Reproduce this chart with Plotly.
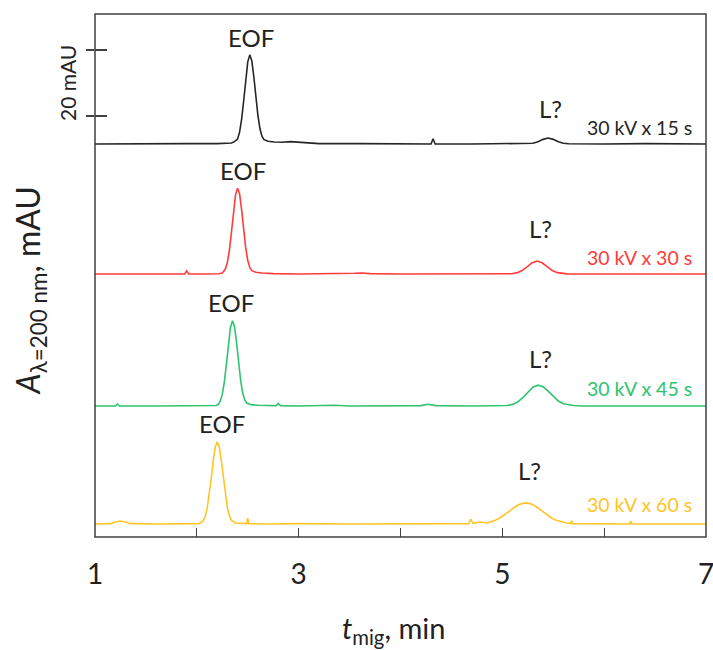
import plotly.graph_objects as go

# ---------------- data (mAU above each trace's own baseline) ----------------
labels = ["30 kV x 15 s", "30 kV x 30 s", "30 kV x 45 s", "30 kV x 60 s"]
colors = ["#262626", "#FF3B3B", "#2EC46E", "#FFC426"]

t15 = [1.00, 1.30, 1.60, 1.90, 2.20, 2.34, 2.37, 2.40,
       2.42, 2.44, 2.46, 2.48, 2.50, 2.52, 2.54, 2.56, 2.58, 2.60, 2.62, 2.64, 2.66,
       2.70, 2.76, 2.84, 2.92, 2.97, 3.04, 3.20, 3.60, 4.00,
       4.30, 4.32, 4.34, 4.70, 5.10,
       5.25, 5.30, 5.35, 5.40, 5.45, 5.50, 5.55, 5.60, 5.65,
       5.75, 6.00, 6.40, 6.80, 7.00]
A15 = [0.0, 0.1, 0.0, 0.1, 0.1, 0.3, 0.7, 1.5,
       3.6, 7.5, 13.1, 19.6, 24.9, 27.0, 25.2, 20.3, 14.2, 8.6, 4.6, 2.3, 1.3,
       0.8, 0.6, 0.5, 0.7, 0.6, 0.3, 0.1, 0.1, 0.0,
       0.0, 1.6, 0.0, 0.0, 0.0,
       0.05, 0.2, 0.65, 1.4, 1.8, 1.4, 0.65, 0.2, 0.05,
       0.0, 0.0, 0.1, 0.0, 0.0]

t30 = [1.00, 1.40, 1.80, 1.88, 1.90, 1.92, 2.10,
       2.22, 2.25, 2.28,
       2.30, 2.32, 2.34, 2.36, 2.38, 2.40, 2.42, 2.44, 2.46, 2.48, 2.50, 2.52, 2.54,
       2.58, 2.64, 2.75, 3.00, 3.40, 3.55, 3.62, 3.70, 4.00, 4.50, 4.90,
       5.09, 5.14, 5.19, 5.24, 5.29, 5.34, 5.39, 5.44, 5.49, 5.54, 5.59, 5.64,
       5.80, 6.20, 6.60, 7.00]
A30 = [0.0, 0.0, 0.0, 0.0, 0.9, 0.0, 0.0,
       0.05, 0.3, 1.5,
       3.5, 7.2, 12.7, 18.9, 24.0, 26.0, 24.3, 19.4, 13.3, 7.9, 4.1, 2.0, 1.0,
       0.5, 0.3, 0.1, 0.0, 0.0, 0.2, 0.3, 0.1, 0.0, 0.0, 0.0,
       0.08, 0.33, 0.97, 2.1, 3.35, 3.9, 3.4, 2.2, 1.05, 0.4, 0.12, 0.03,
       0.0, 0.0, 0.0, 0.0]

t45 = [1.00, 1.20, 1.22, 1.24, 1.60, 2.00, 2.15,
       2.19, 2.21, 2.23, 2.25, 2.27, 2.29, 2.31, 2.33, 2.35, 2.37, 2.39, 2.41, 2.43, 2.45, 2.47, 2.49,
       2.53, 2.60, 2.70, 2.78, 2.80, 2.82, 3.00, 3.25, 3.35, 3.50, 4.00, 4.20, 4.27, 4.35, 4.70,
       5.00, 5.05, 5.10, 5.15, 5.20, 5.25, 5.30, 5.35, 5.40, 5.45, 5.50, 5.55, 5.60, 5.65, 5.70,
       5.80, 6.00, 6.40, 6.80, 7.00]
A45 = [0.0, 0.0, 0.6, 0.0, 0.0, 0.0, 0.0,
       0.15, 0.5, 1.45, 3.5, 7.2, 12.6, 18.7, 23.8, 25.8, 24.1, 19.3, 13.3, 7.8, 4.0, 1.9, 0.9,
       0.4, 0.2, 0.1, 0.1, 0.8, 0.1, 0.0, 0.2, 0.2, 0.0, 0.0, 0.1, 0.5, 0.1, 0.0,
       0.04, 0.15, 0.48, 1.2, 2.5, 4.2, 5.7, 6.3, 5.8, 4.5, 2.9, 1.5, 0.7, 0.3, 0.12,
       0.0, 0.0, 0.0, 0.0, 0.0]

t60 = [1.00, 1.15, 1.20, 1.25, 1.30, 1.35, 1.60, 1.90,
       2.02, 2.06,
       2.08, 2.10, 2.12, 2.14, 2.16, 2.18, 2.20, 2.22, 2.24, 2.26, 2.28, 2.30, 2.32, 2.34,
       2.38, 2.45, 2.49, 2.50, 2.51, 2.70, 3.00, 3.50, 4.00, 4.40, 4.67, 4.69, 4.71, 4.78, 4.85,
       4.88, 4.93, 4.98, 5.03, 5.08, 5.13, 5.18, 5.23, 5.28, 5.33, 5.38, 5.43, 5.48, 5.53, 5.58, 5.63,
       5.67, 5.68, 5.69, 5.90, 6.25, 6.26, 6.27, 6.60, 7.00]
A60 = [0.0, 0.1, 0.6, 0.9, 0.6, 0.1, 0.0, 0.0,
       0.1, 0.86,
       2.1, 4.5, 8.3, 13.4, 18.9, 23.2, 24.8, 23.4, 19.3, 13.9, 8.8, 4.9, 2.4, 1.1,
       0.3, 0.1, 0.1, 1.8, 0.1, 0.0, 0.1, 0.0, 0.1, 0.0, 0.1, 1.5, 0.2, 0.6, 0.3,
       0.6, 1.1, 1.9, 2.9, 4.1, 5.3, 6.1, 6.4, 6.1, 5.3, 4.1, 2.9, 1.9, 1.1, 0.6, 0.28,
       0.15, 1.0, 0.1, 0.0, 0.0, 0.9, 0.0, 0.0, 0.0]

times = [t15, t30, t45, t60]
absorb = [A15, A30, A45, A60]

# peak label positions (min, mAU in each panel)
eof_pos = [(2.53, 32.4), (2.45, 31.5), (2.34, 31.5), (2.25, 30.3)]
lq_pos = [(5.47, 10.9), (5.37, 13.9), (5.37, 14.5), (5.27, 16.1)]
leg_y = [4.85, 4.85, 5.15, 5.8]

# ---------------- layout geometry ----------------
FONT = "Lato"
AX = "#404040"
domains = [[0.7400, 1.0], [0.4723, 0.7400], [0.2333, 0.4723], [0.0, 0.2333]]
ranges = [[-1.82, 39.39], [-4.85, 37.58], [-2.73, 35.15], [-3.94, 33.03]]
yn = ["y", "y2", "y3", "y4"]

fig = go.Figure()
for i in range(4):
    fig.add_trace(go.Scatter(x=times[i], y=absorb[i], mode="lines", yaxis=yn[i], xaxis="x",
                             line=dict(color=colors[i], width=1.6), showlegend=False,
                             hoverinfo="skip"))
fig.add_trace(go.Scatter(x=[], y=[], yaxis="y5", xaxis="x", showlegend=False))

layout = dict(
    width=713, height=650,
    margin=dict(l=95, r=7, t=14, b=113, autoexpand=False),
    paper_bgcolor="white", plot_bgcolor="white",
    font=dict(family=FONT, color="#222222"),
    xaxis=dict(range=[1, 7], anchor="y4", showgrid=False, zeroline=False, showline=False,
               automargin=False,
               tick0=1, dtick=2, ticks="inside", ticklen=9, tickwidth=1.2, tickcolor=AX,
               minor=dict(tick0=1, dtick=1, ticks="inside", ticklen=9, tickwidth=1.2, tickcolor=AX),
               tickfont=dict(family=FONT, size=28, color="#222222"), ticklabelstandoff=18,
               ticklabeloverflow="allow"),
)
for i in range(4):
    key = "yaxis" if i == 0 else f"yaxis{i+1}"
    layout[key] = dict(domain=domains[i], range=ranges[i], anchor="x", showgrid=False,
                       zeroline=False, showline=False, showticklabels=False, ticks="",
                       automargin=False)
layout["yaxis"].update(tickvals=[8.5, 28.5], ticks="outside", ticklen=8, tickwidth=1.5, tickcolor=AX)
layout["yaxis5"] = dict(overlaying="y", anchor="x", side="left", range=ranges[0],
                        tickvals=[8.5, 28.5], ticks="inside", ticklen=12, tickwidth=1.5,
                        tickcolor=AX, showticklabels=False, showgrid=False, zeroline=False,
                        showline=False, automargin=False)
fig.update_layout(**layout)

fig.add_shape(type="rect", xref="paper", yref="paper", x0=0, x1=1, y0=0, y1=1,
              line=dict(color=AX, width=1.5), layer="above")

ann = []
for i in range(4):
    ann.append(dict(x=eof_pos[i][0], y=eof_pos[i][1], xref="x", yref=yn[i], text="EOF",
                    showarrow=False, font=dict(family=FONT, size=24, color="#222222"),
                    xanchor="center", yanchor="middle"))
    ann.append(dict(x=lq_pos[i][0], y=lq_pos[i][1], xref="x", yref=yn[i], text="L?",
                    showarrow=False, font=dict(family=FONT, size=24, color="#222222"),
                    xanchor="center", yanchor="middle"))
    ann.append(dict(x=6.88, y=leg_y[i], xref="x", yref=yn[i], text=labels[i],
                    showarrow=False, font=dict(family=FONT, size=19.5, color=colors[i]),
                    xanchor="right", yanchor="middle"))
ann.append(dict(x=-0.0458, y=0.868, xref="paper", yref="paper", text="20 mAU", textangle=-90,
                showarrow=False, font=dict(family=FONT, size=21, color="#222222"),
                xanchor="center", yanchor="middle"))
ann.append(dict(x=-0.106, y=0.470, xref="paper", yref="paper",
                text="<i>A</i><sub>λ=200 nm</sub>, mAU", textangle=-90,
                showarrow=False, font=dict(family=FONT, size=32, color="#222222"),
                xanchor="center", yanchor="middle"))
ann.append(dict(x=0.489, y=-0.176, xref="paper", yref="paper",
                text="<i>t</i><sub>mig</sub>, min",
                showarrow=False, font=dict(family=FONT, size=29, color="#222222"),
                xanchor="center", yanchor="middle"))
fig.update_layout(annotations=ann)

fig.write_html("out.html")
